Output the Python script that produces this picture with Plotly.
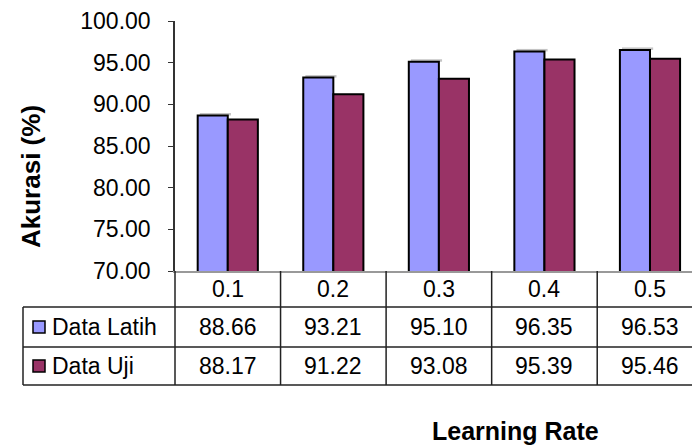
import plotly.graph_objects as go

# Accuracy per learning rate, training vs. testing data
learning_rates = ["0.1", "0.2", "0.3", "0.4", "0.5"]
series_names = ["Data Latih", "Data Uji"]
data_latih = [88.66, 93.21, 95.10, 96.35, 96.53]
data_uji = [88.17, 91.22, 93.08, 95.39, 95.46]
y_ticks = [70, 75, 80, 85, 90, 95, 100]

colors = ["#9999FF", "#993366"]
FONT = "Liberation Sans, Arial, sans-serif"
W, H = 692, 448
L, T, B = 175, 21, 177          # plot area: x 175..692, y 21..271
PW, PH = W - L, H - T - B
X0, X1 = -0.5, 4.398            # category axis range (last column runs past the edge)


def px_x(x):
    return (x - L) / PW


def px_y(y):
    return (H - B - y) / PH


def data_x(v):
    return (v - X0) / (X1 - X0)


series_values = [data_latih, data_uji]
xs = list(range(len(learning_rates)))

fig = go.Figure()
for name, vals, col in zip(series_names, series_values, colors):
    fig.add_trace(go.Bar(
        x=xs, y=vals, name=name,
        marker=dict(color=col, line=dict(color="black", width=2)),
        showlegend=False,
    ))

shapes = []
annotations = []

# faint grey shadow along the top of the first series' bars
bw = 0.57 / 2
for i, v in enumerate(data_latih):
    shapes.append(dict(type="rect", xref="x", yref="y", layer="below",
                       x0=i - bw + 0.02, x1=i + 0.03, y0=v, y1=v + 0.3,
                       fillcolor="#c4c4c4", line=dict(width=0)))

# data table below the plot
line_style = dict(color="#222222", width=1.5)
row_lines = [307, 347, 385]
for y in row_lines:
    shapes.append(dict(type="line", xref="paper", yref="paper",
                       x0=px_x(23), x1=1.05, y0=px_y(y), y1=px_y(y), line=line_style))
shapes.append(dict(type="line", xref="paper", yref="paper",
                   x0=px_x(23), x1=px_x(23), y0=px_y(307), y1=px_y(385), line=line_style))
for k in range(len(learning_rates) + 1):
    xp = data_x(-0.5 + k)
    shapes.append(dict(type="line", xref="paper", yref="paper",
                       x0=xp, x1=xp, y0=0, y1=px_y(385), line=line_style))

txt = dict(family=FONT, size=23, color="black")
for i, lr in enumerate(learning_rates):
    annotations.append(dict(x=i, y=px_y(289), xref="x", yref="paper", text=lr,
                            showarrow=False, font=txt, xanchor="center", yanchor="middle"))

row_centers = [327, 366]
for name, vals, col, yc in zip(series_names, series_values, colors, row_centers):
    shapes.append(dict(type="rect", xref="paper", yref="paper",
                       x0=px_x(33), x1=px_x(45), y0=px_y(yc - 6), y1=px_y(yc + 6),
                       fillcolor=col, line=dict(color="black", width=1.5)))
    annotations.append(dict(x=px_x(50), y=px_y(yc), xref="paper", yref="paper", text=name,
                            showarrow=False, font=txt, xanchor="left", yanchor="middle"))
    for i, v in enumerate(vals):
        annotations.append(dict(x=i, y=px_y(yc), xref="x", yref="paper", text=f"{v:.2f}",
                                showarrow=False, font=txt, xanchor="center", yanchor="middle"))

# axis titles
title_font = dict(family=FONT, size=26, color="black", weight="bold")
annotations.append(dict(x=px_x(31), y=px_y(177), xref="paper", yref="paper",
                        text="Akurasi (%)", textangle=-90, showarrow=False,
                        font=title_font, xanchor="center", yanchor="middle"))
annotations.append(dict(x=px_x(515), y=px_y(431), xref="paper", yref="paper",
                        text="Learning Rate", showarrow=False,
                        font=dict(family=FONT, size=25, color="black", weight="bold"),
                        xanchor="center", yanchor="middle", borderpad=0))

fig.update_layout(
    width=W, height=H,
    margin=dict(l=L, r=0, t=T, b=B, pad=0),
    paper_bgcolor="white", plot_bgcolor="white",
    barmode="group", bargap=0.43, bargroupgap=0,
    shapes=shapes, annotations=annotations,
    font=dict(family=FONT, color="black"),
)
fig.update_xaxes(range=[X0, X1], showticklabels=False, ticks="", showgrid=False,
                 zeroline=False, showline=True, linecolor="#999999", linewidth=1.5,
                 layer="below traces")
fig.update_yaxes(range=[70, 100], tickvals=y_ticks, tickformat=".2f",
                 ticks="outside", ticklen=5, tickcolor="#333333", tickwidth=1,
                 showgrid=False, zeroline=False, showline=True, linecolor="#333333",
                 linewidth=1.5, ticklabelstandoff=13,
                 tickfont=dict(family=FONT, size=23, color="black"))

fig.write_html("out.html")
